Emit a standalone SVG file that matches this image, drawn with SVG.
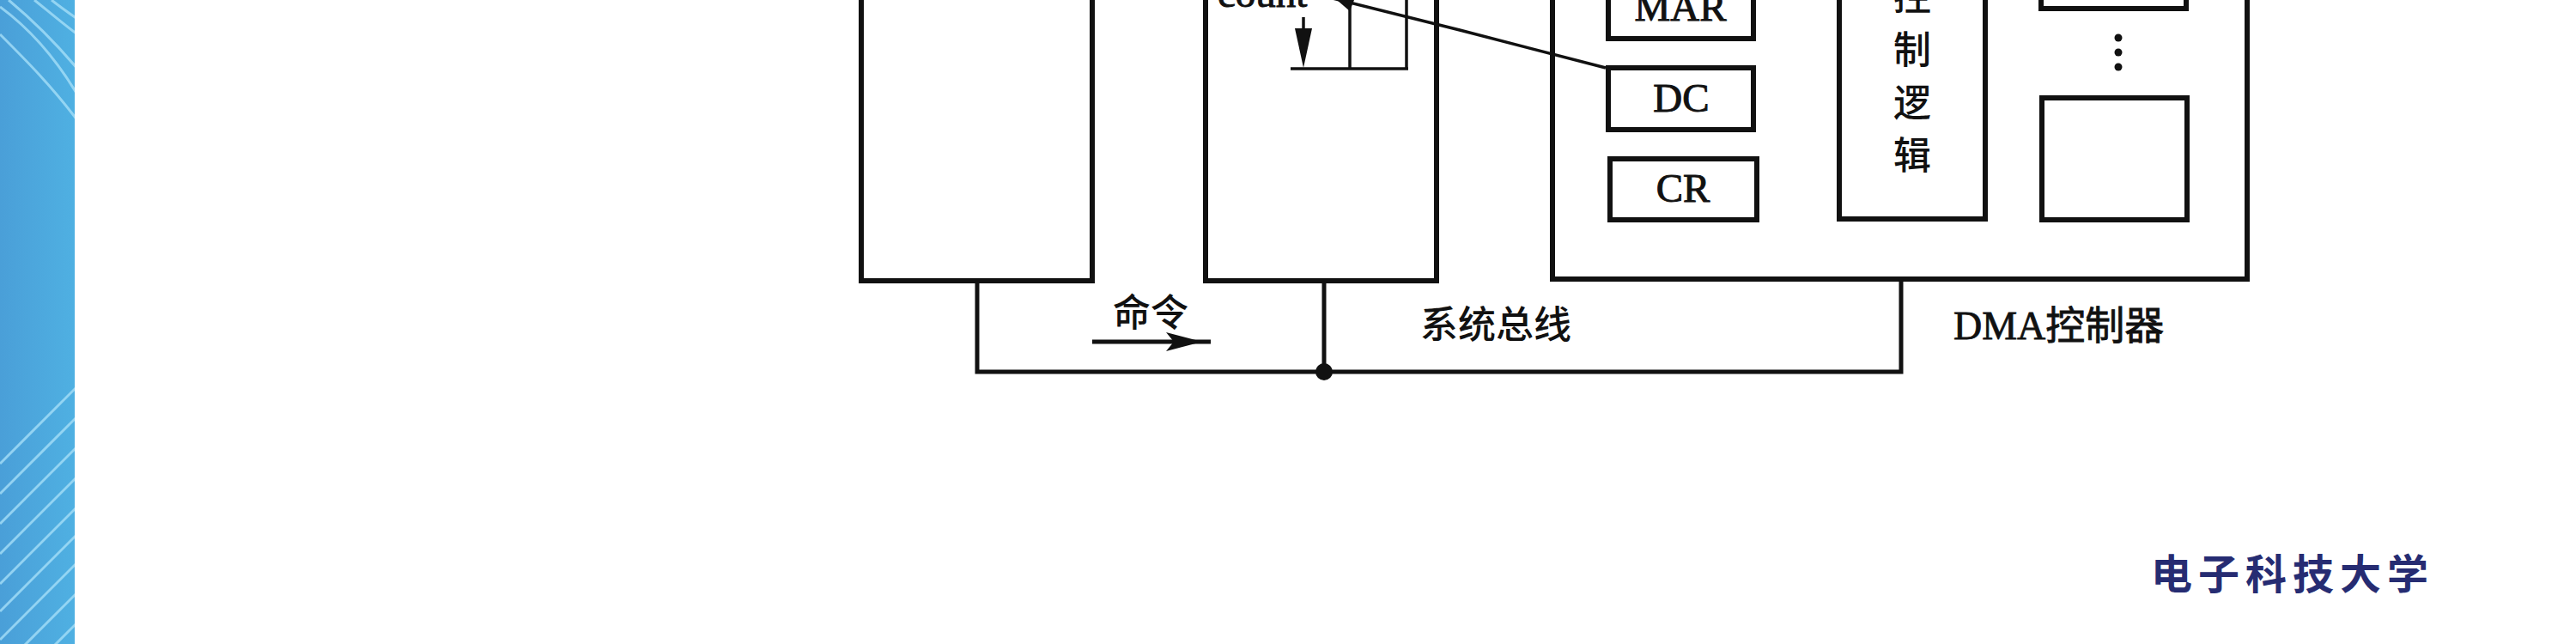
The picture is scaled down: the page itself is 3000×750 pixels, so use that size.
<svg xmlns="http://www.w3.org/2000/svg" width="3000" height="750" viewBox="0 0 3000 750">
<defs>
<linearGradient id="blueg" x1="0" y1="0" x2="1" y2="0">
<stop offset="0" stop-color="#4a9fd8"/>
<stop offset="1" stop-color="#4fb0e2"/>
</linearGradient>
<clipPath id="stripclip"><rect x="0" y="0" width="87" height="750"/></clipPath>
</defs>
<style>
.box{fill:none;stroke:#111;stroke-width:6}
.thin{fill:none;stroke:#111;stroke-width:3.5}
.bus{fill:none;stroke:#111;stroke-width:5}
.lat{font-family:"Liberation Serif",serif;font-size:47px;fill:#111;stroke:#111;stroke-width:1}
.cjk{font-family:"Noto Sans CJK SC",sans-serif;font-size:44px;fill:#111;font-weight:500}
.mix{font-family:"Liberation Serif","Noto Sans CJK SC",serif;font-size:46px;fill:#111;stroke:#111;stroke-width:0.8}
.wave{fill:none;stroke:#a5def8;stroke-width:3;opacity:0.8}
</style>
<rect width="3000" height="750" fill="#ffffff"/>
<g id="strip" clip-path="url(#stripclip)">
<rect x="0" y="0" width="87" height="750" fill="url(#blueg)"/>
<path class="wave" d="M0,8 C30,30 60,60 90,110"/>
<path class="wave" d="M10,0 C40,25 65,50 90,80" stroke-width="7" stroke="#d2f2fd"/>
<path class="wave" d="M40,0 C55,12 70,25 90,40"/>
<path class="wave" d="M60,0 C70,8 80,15 90,22"/>
<path class="wave" d="M0,40 C30,70 60,100 90,140" opacity="0.4"/>
<path class="wave" d="M0,540 L90,450"/>
<path class="wave" d="M0,575 L90,485"/>
<path class="wave" d="M0,610 L90,520"/>
<path class="wave" d="M0,645 L90,555"/>
<path class="wave" d="M0,680 L90,590"/>
<path class="wave" d="M0,712 L90,622"/>
<path class="wave" d="M0,745 L90,655"/>
<path class="wave" d="M20,760 L90,690"/>
<path class="wave" d="M55,760 L90,725"/>
</g>
<g id="cpu">
<rect class="box" x="1003" y="-20" width="269" height="347"/>
</g>
<g id="memory">
<rect class="box" x="1404" y="-20" width="269" height="347"/>
<text class="lat" x="1418" y="8" font-size="48">count</text>
<path class="thin" d="M1503,80 H1640 M1572,3 V80 M1638,-5 V80"/>
<line class="thin" x1="1518" y1="20" x2="1518" y2="40" stroke-width="3"/>
<polygon points="1508,33 1528,33 1518,79" fill="#111"/>
</g>
<g id="dma">
<rect class="box" x="1808" y="-20" width="809" height="345"/>
<text class="mix" x="2275" y="395">DMA控制器</text>
</g>
<g id="mar">
<rect class="box" x="1873" y="-20" width="169" height="65"/>
<text class="lat" x="1957" y="24" text-anchor="middle">MAR</text>
</g>
<g id="dc">
<rect class="box" x="1873" y="79" width="169" height="72"/>
<text class="lat" x="1958" y="130" text-anchor="middle">DC</text>
</g>
<g id="cr">
<rect class="box" x="1875" y="185" width="171" height="71"/>
<text class="lat" x="1960" y="235" text-anchor="middle">CR</text>
</g>
<g id="ctrl">
<rect class="box" x="2142" y="-20" width="170" height="275"/>
<text class="cjk" font-size="46" x="2227" text-anchor="middle"><tspan x="2227" y="12">控</tspan><tspan x="2227" y="74">制</tspan><tspan x="2227" y="136">逻</tspan><tspan x="2227" y="197">辑</tspan></text>
</g>
<g id="buf1">
<rect class="box" x="2377" y="-20" width="169" height="30"/>
</g>
<g id="dots">
<circle cx="2467" cy="44" r="4.5" fill="#111"/>
<circle cx="2467" cy="61" r="4.5" fill="#111"/>
<circle cx="2467" cy="78" r="4.5" fill="#111"/>
</g>
<g id="bufn">
<rect class="box" x="2378" y="114" width="169" height="142"/>
</g>
<g id="connectors">
<path class="bus" d="M1138,327 V433 H2214 V325"/>
<path class="bus" d="M1542,327 V433" stroke-width="3.5"/>
<circle cx="1542" cy="433" r="10" fill="#111"/>
<polyline class="thin" points="1870,79 1700,35 1548,-3"/>
<polygon points="1557,0 1577,0 1572,13" fill="#111"/>
<line class="bus" x1="1272" y1="398" x2="1410" y2="398"/>
<polygon points="1358,387 1400,398 1358,409 1367,398" fill="#111"/>
<text class="cjk" x="1296" y="380">命令</text>
<text class="cjk" x="1654" y="394">系统总线</text>
</g>
<g id="footer">
<text x="2505" y="686" font-family="Noto Sans CJK SC,sans-serif" font-size="48" font-weight="bold" letter-spacing="7" fill="#262c72">电子科技大学</text>
</g>
</svg>
